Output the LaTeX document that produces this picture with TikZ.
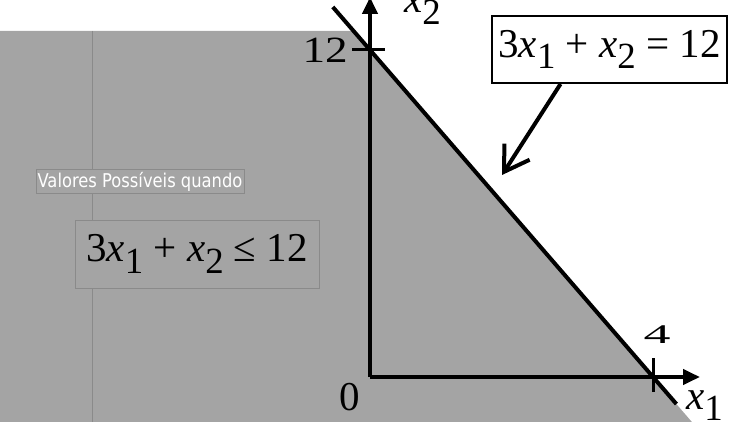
\documentclass[tikz,border=0pt]{standalone}
\usepackage{fontspec}
\setmainfont{Liberation Serif}
\newfontfamily\notefont{DejaVu Sans}
\usetikzlibrary{arrows.meta}
\definecolor{regiongray}{RGB}{164,164,164}
\definecolor{edgegray}{RGB}{138,138,138}
\newcommand{\xvar}[1]{\textit{x}\raisebox{-0.28em}{\scalebox{0.9}{#1}}}
\tikzset{
  axis/.style={line width=4pt, -{Triangle[length=17pt,width=15pt]}},
  tickmark/.style={line width=3pt},
  eqtext/.style={font=\fontsize{41}{45}\selectfont, inner sep=0pt},
  numtext/.style={font=\fontsize{37}{40}\selectfont, inner sep=0pt},
}
\begin{document}
\begin{tikzpicture}[x=1pt,y=-1pt]
\useasboundingbox (0,0) rectangle (738,422);
% feasible side of the line
\fill[regiongray] (0,31) -- (353.6,31) -- (691.9,422) -- (0,422) -- cycle;
\draw[edgegray, line width=1pt] (92,31) -- (92,422);
\coordinate (O) at (370,377);
\coordinate (Y12) at (370,50);
\coordinate (X4) at (653,377);
\coordinate (Ltop) at (332.8,7);
\coordinate (Lbot) at (676.4,404);
\coordinate (ptr) at (502,175);
% notes
\node[draw=edgegray, fill=regiongray, line width=1pt, minimum width=208pt, minimum height=23pt, inner sep=0pt, text=white, font=\notefont\fontsize{19}{21}\selectfont] (note) at (140,181.5) {\scalebox{0.86}[1]{Valores Possíveis quando}};
\node[draw=edgegray, fill=regiongray, line width=1pt, minimum width=244pt, minimum height=68pt, eqtext] (ineq) at (197,254) {3\xvar{1} + \xvar{2} ≤ 12};
\node[draw, fill=white, line width=2pt, minimum width=235pt, minimum height=67pt, eqtext] (eqbox) at (609.5,49.5) {3\xvar{1} + \xvar{2} = 12};
% axes
\draw[axis] (O) -- (370,-3);
\draw[axis] (O) -- (700,377);
\draw[line width=4pt] (Ltop) -- (Lbot);
\draw[tickmark] ([xshift=-18pt]Y12) -- ([xshift=15pt]Y12);
\draw[tickmark] ([yshift=-15pt]X4) -- ([yshift=19pt]X4);
\draw[line width=4pt, -{Straight Barb[length=24pt,width=30pt]}] ([xshift=-49pt]eqbox.south) -- (ptr);
% labels
\node[numtext, anchor=base east] (lbl12) at (348,63) {\scalebox{1.22}[1]{12}};
\node[inner sep=0pt, font=\fontsize{27}{30}\selectfont, anchor=base] (lbl4) at (657,343) {\scalebox{2}[1]{4}};
\node[eqtext, anchor=base] (lbl0) at (350,410) {0};
\node[eqtext, anchor=base west] (lblx1) at (686,409) {\xvar{1}};
\node[eqtext, anchor=base west] (lblx2) at (404,13) {\xvar{2}};
\end{tikzpicture}
\end{document}
